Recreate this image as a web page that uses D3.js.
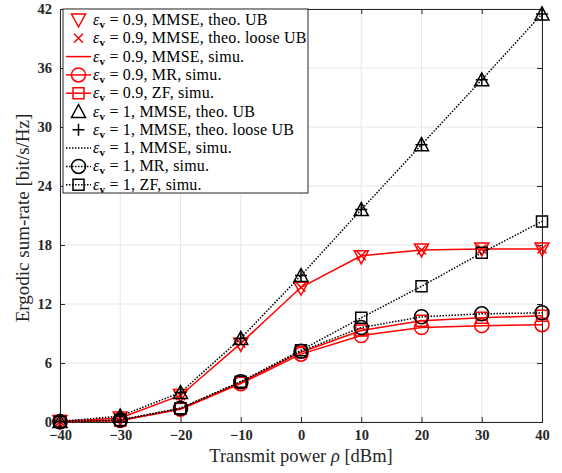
<!DOCTYPE html>
<html>
<head>
<meta charset="utf-8">
<script src="https://cdn.jsdelivr.net/npm/d3@7"></script>
<style>
  body { margin: 0; background: #fff; }
  svg { display: block; }
</style>
</head>
<body>
<div id="chart"></div>
<script>
// data
var powers = [-40, -30, -20, -10, 0, 10, 20, 30, 40];
var ub09    = [0.05, 0.4, 2.7, 7.9, 13.6, 16.8, 17.5, 17.6, 17.6];
var loose09 = [0.05, 0.4, 2.7, 8.0, 13.7, 16.9, 17.5, 17.6, 17.6];
var mmse09  = [0.05, 0.4, 2.7, 8.0, 13.7, 16.9, 17.5, 17.6, 17.6];
var mr09    = [0.02, 0.15, 1.3, 3.9, 6.9, 8.8, 9.6, 9.8, 9.9];
var zf09    = [0.02, 0.15, 1.35, 4.0, 7.1, 9.3, 10.3, 10.6, 10.8];
var ub1     = [0.06, 0.6, 3.0, 8.5, 14.9, 21.6, 28.2, 34.8, 41.5];
var loose1  = [0.06, 0.6, 3.0, 8.5, 14.9, 21.6, 28.2, 34.8, 41.5];
var mmse1   = [0.06, 0.6, 3.0, 8.5, 14.9, 21.6, 28.2, 34.8, 41.5];
var mr1     = [0.02, 0.2, 1.4, 4.1, 7.2, 9.6, 10.7, 11.0, 11.1];
var zf1     = [0.02, 0.2, 1.4, 4.1, 7.3, 10.6, 13.8, 17.2, 20.4];
var xTicks = [-40, -30, -20, -10, 0, 10, 20, 30, 40];
var yTicks = [0, 6, 12, 18, 24, 30, 36, 42];

var series = [
  { eps: "0.9", rest: ", MMSE, theo. UB",       vals: ub09,    color: "#ff0000", line: null,    marker: "tridown" },
  { eps: "0.9", rest: ", MMSE, theo. loose UB", vals: loose09, color: "#ff0000", line: null,    marker: "x" },
  { eps: "0.9", rest: ", MMSE, simu.",          vals: mmse09,  color: "#ff0000", line: "solid", marker: null },
  { eps: "0.9", rest: ", MR, simu.",            vals: mr09,    color: "#ff0000", line: "solid", marker: "circle" },
  { eps: "0.9", rest: ", ZF, simu.",            vals: zf09,    color: "#ff0000", line: "solid", marker: "square" },
  { eps: "1",   rest: ", MMSE, theo. UB",       vals: ub1,     color: "#000000", line: null,    marker: "triup" },
  { eps: "1",   rest: ", MMSE, theo. loose UB", vals: loose1,  color: "#000000", line: null,    marker: "plus" },
  { eps: "1",   rest: ", MMSE, simu.",          vals: mmse1,   color: "#000000", line: "dot",   marker: null },
  { eps: "1",   rest: ", MR, simu.",            vals: mr1,     color: "#000000", line: "dot",   marker: "circle" },
  { eps: "1",   rest: ", ZF, simu.",            vals: zf1,     color: "#000000", line: "dot",   marker: "square" }
];

var width = 562, height = 473;
var margin = { left: 60, right: 20, top: 9, bottom: 51 };
var serif = "'Liberation Serif', 'Times New Roman', serif";

var x = d3.scaleLinear().domain([-40, 40]).range([margin.left, width - margin.right]);
var y = d3.scaleLinear().domain([0, 42]).range([height - margin.bottom, margin.top]);

var svg = d3.select("#chart").append("svg")
  .attr("width", width).attr("height", height);

var x0 = x.range()[0], x1 = x.range()[1], y0 = y.range()[0], y1 = y.range()[1];

// grid
var grid = svg.append("g").attr("stroke", "#e6e6e6").attr("stroke-width", 1);
xTicks.forEach(function (t) {
  grid.append("line").attr("x1", x(t)).attr("x2", x(t)).attr("y1", y0).attr("y2", y1);
});
yTicks.forEach(function (t) {
  grid.append("line").attr("x1", x0).attr("x2", x1).attr("y1", y(t)).attr("y2", y(t));
});

// axes (ticks inward, box)
var axColor = "#262626";
var gx = svg.append("g").attr("transform", "translate(0," + y0 + ")")
  .call(d3.axisBottom(x).tickValues(xTicks).tickSize(-5).tickPadding(8).tickFormat(d3.format("d")));
var gxt = svg.append("g").attr("transform", "translate(0," + y1 + ")")
  .call(d3.axisTop(x).tickValues(xTicks).tickSize(-5).tickFormat(""));
var gy = svg.append("g").attr("transform", "translate(" + x0 + ",0)")
  .call(d3.axisLeft(y).tickValues(yTicks).tickSize(-5).tickPadding(8).tickFormat(d3.format("d")));
var gyr = svg.append("g").attr("transform", "translate(" + x1 + ",0)")
  .call(d3.axisRight(y).tickValues(yTicks).tickSize(-5).tickFormat(""));
[gx, gxt, gy, gyr].forEach(function (g) {
  g.attr("font-family", null);
  g.select(".domain").attr("stroke", axColor).attr("stroke-width", 1);
  g.selectAll(".tick line").attr("stroke", axColor);
  g.selectAll("text").attr("fill", axColor)
    .style("font-family", serif)
    .style("font-weight", "bold").style("font-size", "14.5px");
});

// marker shapes
function markerPath(type) {
  switch (type) {
    case "tridown": return "M-7,-6L7,-6L0,7Z";
    case "triup":   return "M-7,6L7,6L0,-7Z";
    case "x":       return "M-4.5,-4.5L4.5,4.5M-4.5,4.5L4.5,-4.5";
    case "plus":    return "M-6,0L6,0M0,-6L0,6";
    case "square":  return "M-5.5,-5.5H5.5V5.5H-5.5Z";
    case "circle":  return "M7,0A7,7 0 1,1 -7,0A7,7 0 1,1 7,0Z";
  }
  return "";
}

var lineGen = d3.line()
  .x(function (d) { return x(d[0]); })
  .y(function (d) { return y(d[1]); });

var plot = svg.append("g");
series.forEach(function (s) {
  var pts = powers.map(function (p, i) { return [p, s.vals[i]]; });
  var g = plot.append("g");
  if (s.line) {
    g.append("path").datum(pts)
      .attr("d", lineGen)
      .attr("fill", "none")
      .attr("stroke", s.color)
      .attr("stroke-width", 1.5)
      .attr("stroke-dasharray", s.line === "dot" ? "1.5,1.5" : null);
  }
  if (s.marker) {
    g.selectAll("path.m").data(pts).enter().append("path")
      .attr("class", "m")
      .attr("transform", function (d) { return "translate(" + x(d[0]) + "," + y(d[1]) + ")"; })
      .attr("d", markerPath(s.marker))
      .attr("fill", "none")
      .attr("stroke", s.color)
      .attr("stroke-width", 1.5);
  }
});

// axis titles
svg.append("text")
  .attr("x", (x0 + x1) / 2).attr("y", 462)
  .attr("text-anchor", "middle")
  .style("font-family", serif).style("font-size", "18.5px")
  .attr("fill", axColor)
  .html("Transmit power <tspan font-style='italic'>ρ</tspan> [dBm]");

svg.append("text")
  .attr("transform", "translate(29,218) rotate(-90)")
  .attr("text-anchor", "middle")
  .style("font-family", serif).style("font-size", "19px")
  .attr("fill", axColor)
  .text("Ergodic sum-rate [bit/s/Hz]");

// legend
var lg = svg.append("g").attr("transform", "translate(63,9)");
var rowH = 18.3;
lg.append("rect").attr("x", 0).attr("y", 0).attr("width", 245).attr("height", 184)
  .attr("fill", "#fff").attr("stroke", axColor).attr("stroke-width", 1);
series.forEach(function (s, i) {
  var cy = 11 + i * rowH;
  var row = lg.append("g").attr("transform", "translate(0," + cy + ")");
  if (s.line) {
    row.append("line").attr("x1", 3).attr("x2", 28).attr("y1", 0).attr("y2", 0)
      .attr("stroke", s.color).attr("stroke-width", 1.5)
      .attr("stroke-dasharray", s.line === "dot" ? "1.5,1.5" : null);
  }
  if (s.marker) {
    row.append("path").attr("transform", "translate(15.5,0)")
      .attr("d", markerPath(s.marker))
      .attr("fill", "none").attr("stroke", s.color).attr("stroke-width", 1.5);
  }
  var t = row.append("text").attr("x", 30).attr("y", 5)
    .style("font-family", serif).style("font-size", "16px")
    .style("letter-spacing", "0.2px")
    .attr("fill", "#000");
  t.append("tspan").attr("font-style", "italic").text("ε");
  t.append("tspan").attr("font-weight", "bold").attr("font-size", "11px").attr("dy", 3).text("v");
  t.append("tspan").attr("dy", -3).text(" = " + s.eps + s.rest);
});
</script>
</body>
</html>
